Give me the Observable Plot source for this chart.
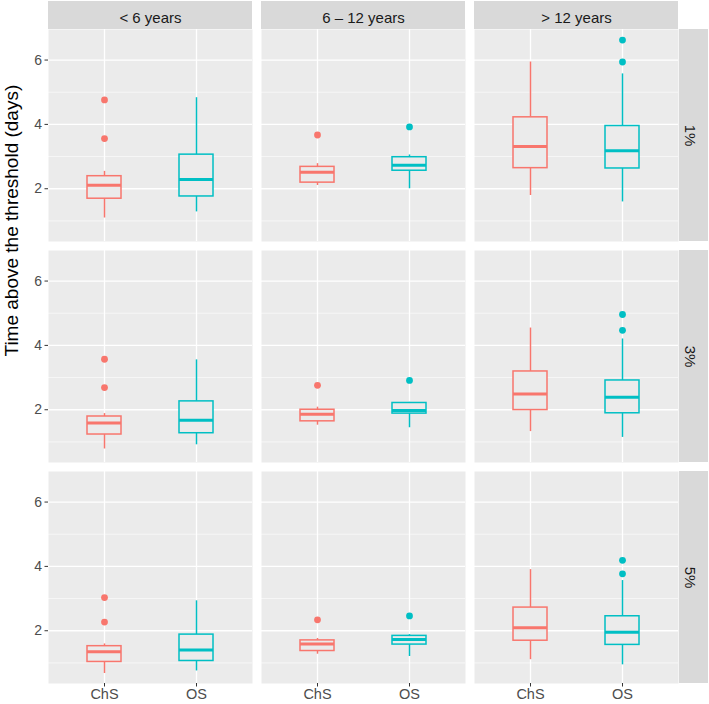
<!DOCTYPE html>
<html>
<head>
<meta charset="utf-8">
<script src="https://cdn.jsdelivr.net/npm/d3@7"></script>
<script src="https://cdn.jsdelivr.net/npm/@observablehq/plot@0.6"></script>
<style>
  html, body { margin: 0; padding: 0; background: #fff; }
  #chart { width: 709px; height: 704px; }
</style>
</head>
<body>
<div id="chart"></div>
<script>
// ---- data ----
const ages = ["< 6 years", "6 – 12 years", "> 12 years"];
const thresholds = ["1%", "3%", "5%"];
const groups = ["ChS", "OS"];
const yTicks = [2, 4, 6];
const yMinorTicks = [1, 3, 5];
const yTitle = "Time above the threshold (days)";

// order: threshold (1%,3%,5%) -> age (<6, 6-12, >12) -> group (ChS, OS)
const whiskerLow  = [1.09, 1.28, 2.10, 2.00, 1.79, 1.59,
                     0.78, 0.91, 1.52, 1.44, 1.32, 1.14,
                     0.67, 0.75, 1.27, 1.20, 1.10, 0.94];
const q1          = [1.69, 1.76, 2.19, 2.56, 2.64, 2.63,
                     1.23, 1.27, 1.64, 1.88, 1.99, 1.89,
                     1.03, 1.06, 1.37, 1.57, 1.69, 1.56];
const median      = [2.11, 2.29, 2.51, 2.73, 3.31, 3.18,
                     1.59, 1.67, 1.86, 1.98, 2.49, 2.39,
                     1.35, 1.40, 1.59, 1.73, 2.09, 1.95];
const q3          = [2.39, 3.06, 2.68, 2.98, 4.22, 3.95,
                     1.79, 2.26, 2.00, 2.21, 3.19, 2.91,
                     1.52, 1.88, 1.70, 1.84, 2.72, 2.45];
const whiskerHigh = [2.54, 4.83, 2.78, 3.05, 5.94, 5.57,
                     1.88, 3.55, 2.08, 2.23, 4.54, 4.20,
                     1.59, 2.93, 1.76, 1.88, 3.90, 3.56];

const outlierThreshold = ["1%","1%","1%","1%","1%","1%",
                          "3%","3%","3%","3%","3%","3%",
                          "5%","5%","5%","5%","5%","5%"];
const outlierAge = ["< 6 years","< 6 years","6 – 12 years","6 – 12 years","> 12 years","> 12 years",
                    "< 6 years","< 6 years","6 – 12 years","6 – 12 years","> 12 years","> 12 years",
                    "< 6 years","< 6 years","6 – 12 years","6 – 12 years","> 12 years","> 12 years"];
const outlierGroup = ["ChS","ChS","ChS","OS","OS","OS",
                      "ChS","ChS","ChS","OS","OS","OS",
                      "ChS","ChS","ChS","OS","OS","OS"];
const outlierValue = [4.76, 3.56, 3.67, 3.92, 6.62, 5.94,
                      3.57, 2.69, 2.76, 2.91, 4.96, 4.47,
                      3.03, 2.27, 2.34, 2.46, 4.19, 3.77];

// ---- build tables ----
const boxes = [];
let k = 0;
for (const t of thresholds) for (const a of ages) for (const g of groups) {
  boxes.push({thr: t, age: a, group: g,
    lo: whiskerLow[k], q1: q1[k], med: median[k], q3: q3[k], hi: whiskerHigh[k]});
  k++;
}
const outliers = outlierValue.map((v, i) => ({
  thr: outlierThreshold[i], age: outlierAge[i], group: outlierGroup[i], value: v
}));

const colors = {domain: groups, range: ["#F8766D", "#00BFC4"]};

const plot = Plot.plot({
  width: 709,
  height: 704,
  marginLeft: 48,
  marginRight: 31,
  marginTop: 29,
  marginBottom: 21,
  style: {fontFamily: "Liberation Sans, Arial, Helvetica, sans-serif", background: "#fff"},
  fx: {domain: ages, paddingInner: 9 / 213, paddingOuter: 0},
  fy: {domain: thresholds, paddingInner: 9 / 221, paddingOuter: 0},
  x: {type: "band", domain: groups, paddingInner: 0.626, paddingOuter: 0.412},
  y: {domain: [0.36, 6.95]},
  color: colors,
  marks: [
    Plot.frame({fill: "#EBEBEB", stroke: null}),
    Plot.gridY(yMinorTicks, {stroke: "#fff", strokeOpacity: 1, strokeWidth: 0.6}),
    Plot.gridY(yTicks, {stroke: "#fff", strokeOpacity: 1, strokeWidth: 1.3}),
    Plot.gridX(groups, {stroke: "#fff", strokeOpacity: 1, strokeWidth: 1.3}),
    Plot.axisY(yTicks, {anchor: "left", label: null, tickSize: 3.5, tickPadding: 3,
      stroke: "#333", fill: "#4D4D4D", fontSize: 14}),
    Plot.axisX({anchor: "bottom", label: null, tickSize: 3.5, tickPadding: 2,
      stroke: "#333", fill: "#4D4D4D", fontSize: 14.5}),
    Plot.axisFx({anchor: "top", label: null, tickSize: 0, tickPadding: 7,
      fill: "#1A1A1A", fontSize: 15}),
    Plot.axisFy({anchor: "right", label: null, tickSize: 0, tickPadding: 17,
      tickRotate: 90, fill: "#1A1A1A", fontSize: 15}),
    Plot.ruleX(boxes, {x: "group", y1: "lo", y2: "q1", fx: "age", fy: "thr",
      stroke: "group", strokeWidth: 1.5}),
    Plot.ruleX(boxes, {x: "group", y1: "q3", y2: "hi", fx: "age", fy: "thr",
      stroke: "group", strokeWidth: 1.5}),
    Plot.barY(boxes, {x: "group", y1: "q1", y2: "q3", fx: "age", fy: "thr",
      fill: "#EBEBEB", stroke: "group", strokeWidth: 1.5}),
    Plot.tickY(boxes, {x: "group", y: "med", fx: "age", fy: "thr",
      stroke: "group", strokeWidth: 3}),
    Plot.dot(outliers, {x: "group", y: "value", fx: "age", fy: "thr",
      fill: "group", r: 3.4, stroke: null}),
    Plot.text([yTitle], {facet: "super", frameAnchor: "left", rotate: -90, dx: -37,
      fontSize: 19, fill: "#000", text: d => d})
  ]
});

// strip backgrounds (ggplot-like), placed behind everything using the plot's fx/fy scales
const svg = d3.select(plot.tagName.toLowerCase() === "svg" ? plot : plot.querySelector("svg"));
const fx = plot.scale("fx");
const fy = plot.scale("fy");
const strips = svg.insert("g", ":first-child");
for (const a of ages) {
  strips.append("rect")
    .attr("x", fx.apply(a)).attr("y", 1)
    .attr("width", fx.bandwidth).attr("height", 28)
    .attr("fill", "#D9D9D9");
}
for (const t of thresholds) {
  strips.append("rect")
    .attr("x", 679).attr("y", fy.apply(t))
    .attr("width", 29).attr("height", fy.bandwidth)
    .attr("fill", "#D9D9D9");
}
document.getElementById("chart").appendChild(plot);
</script>
</body>
</html>
